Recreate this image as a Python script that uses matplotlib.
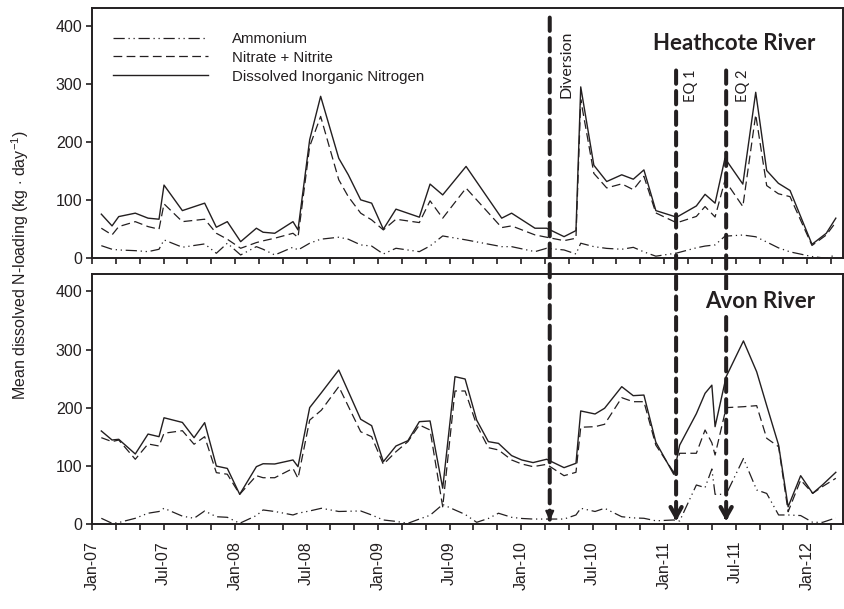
import matplotlib
matplotlib.use("Agg")
import matplotlib.pyplot as plt
from matplotlib.lines import Line2D
from matplotlib.patches import ConnectionPatch

plt.rcParams['font.family'] = ['Liberation Sans', 'DejaVu Sans']
plt.rcParams['mathtext.fontset'] = 'custom'
plt.rcParams['mathtext.rm'] = 'Liberation Sans'
plt.rcParams['mathtext.it'] = 'Liberation Sans'

# sampling dates, in months after 1 Jan 2007
months_heathcote = [0.78, 1.68, 2.24, 3.63, 4.70, 5.62, 6.04, 7.58, 9.45, 10.43, 11.35, 12.47,
                    13.79, 14.35, 15.33, 16.86, 17.28, 18.26, 19.18, 20.7, 21.5, 22.54, 23.46,
                    24.44, 25.5, 27.46, 28.36, 29.42, 31.38, 34.37, 35.2, 37.16, 38.14, 39.6,
                    40.6, 41.0, 42.1, 43.18, 44.44, 45.41, 46.3, 47.3, 49.05, 50.7, 51.43,
                    52.27, 53.1, 54.6, 55.68, 56.6, 57.58, 58.56, 60.4, 61.6, 62.4]
din_heathcote = [75.9, 55.7, 71.7, 77.6, 69, 67.2, 125.9, 82, 94.8, 53.4, 63, 28.6,
                 51.7, 44.8, 43, 63, 48.8, 204, 278.6, 172, 143.6, 100.5, 94.8,
                 50, 84.5, 70.7, 127.6, 109, 158, 69, 77.6, 51.7, 51.7, 37.2,
                 47.6, 294.8, 160, 132, 143.6, 136, 152, 82, 70.7, 90, 110,
                 94.8, 172, 127.6, 285.5, 151, 129, 116.6, 24, 43, 69]
nox_heathcote = [51.7, 40.2, 54.5, 63, 54.5, 50, 93.6, 63, 67.2, 43, 32.8, 17.2,
                 27, 30, 34.5, 43, 36, 192.4, 244, 135, 106, 77.6, 66,
                 48.8, 67.2, 61.4, 98.8, 69, 120.7, 52.8, 55.7, 40.2, 36.2, 30.3,
                 34.5, 273, 146, 121, 128, 118, 141, 78, 61, 72, 89,
                 71, 134, 89, 247, 125, 111, 106, 22, 40, 62]
nh4_heathcote = [21.7, 15.5, 14.3, 13.1, 11.4, 15.5, 31.6, 19, 24.7, 8.6, 25.9, 5.7,
                 20, 15.5, 5.7, 19, 14.3, 25.9, 32.8, 36.2, 32.8, 23, 21,
                 7.4, 17.2, 11.4, 21.2, 38.4, 31.6, 20, 20, 11.4, 17.2, 14.3,
                 7.4, 25.9, 20, 17, 15.5, 18.8, 11, 3.6, 9, 18, 21,
                 23, 38, 40, 37, 28, 18, 11, 3, 0, 6]

months_avon = [0.78, 1.68, 2.24, 3.63, 4.70, 5.62, 6.04, 7.58, 8.56, 9.45, 10.43, 11.35,
               12.39, 13.79, 14.35, 15.33, 16.86, 17.28, 18.26, 19.24, 20.7, 22.54, 23.46,
               24.44, 25.5, 26.5, 27.46, 28.36, 29.42, 30.45, 31.3, 32.27, 33.25, 34.1,
               35.2, 36.05, 37.0, 38.14, 39.6, 40.6, 41.0, 42.2, 43.0, 44.44, 45.4, 46.3,
               47.3, 48.8, 49.3, 50.7, 51.43, 52.0, 52.27, 53.2, 54.65, 55.76, 56.6, 57.6,
               58.4, 59.45, 60.46, 61.3, 62.4]
din_avon = [160.3, 144.8, 146, 120.8, 155, 150.5, 183, 175, 148.8, 174.6, 100, 96,
            51.5, 99, 104, 103.6, 110.5, 99, 200.4, 226, 265, 180.4, 169.4,
            107.6, 134.5, 143.6, 176.3, 177.5, 62, 253.6, 249.6, 179, 142, 139,
            118, 110.5, 106, 111.7, 97.3, 104.8, 194.7, 189.5, 199.3, 236.4, 221, 222,
            141, 86, 136, 190, 225, 239, 167.7, 253.6, 315, 262, 204, 136,
            30, 83.5, 53.2, 68, 89.3]
nox_avon = [148.8, 142, 144.8, 111.7, 138, 134.5, 156.4, 160.8, 137.5, 150.5, 88.7, 86,
            51.5, 83.5, 80, 80, 96, 79, 179, 196, 236.5, 159, 150.5,
            103, 124.7, 142, 170.6, 162, 30, 229, 229, 170.6, 131.6, 127.7,
            110.5, 103.6, 99, 103, 83.5, 89.3, 166.7, 167.7, 171.8, 217.5, 210.6, 210.6,
            136, 89.3, 122, 122, 162, 140, 119, 200.4, 202, 203.8, 147.8, 133.3,
            21.6, 76, 53.2, 65, 79]
nh4_avon = [10.3, 1.7, 3, 10.3, 19, 22, 27.5, 14, 10.3, 22.9, 13, 12,
            1.7, 15, 24.6, 22, 16, 19, 22.9, 27.5, 22, 22.9, 16,
            7.4, 5, 1.7, 9, 15.5, 34, 24.6, 17, 3.4, 10, 19,
            12, 10, 9, 9, 9, 16, 27.5, 22, 27.5, 13, 11, 10.3,
            6, 7.4, 5.7, 67.5, 63, 95, 51.5, 51.5, 113, 59, 53, 16,
            16, 15, 3.4, 3.4, 11]

# diversion and the two earthquakes
event_names = ['Diversion', 'EQ 1', 'EQ 2']
event_months = [38.4, 49.0, 53.2]

tick_labels = ['Jan-07', 'Jul-07', 'Jan-08', 'Jul-08', 'Jan-09', 'Jul-09',
               'Jan-10', 'Jul-10', 'Jan-11', 'Jul-11', 'Jan-12']

ink = '#231f20'
nh4_dash = (0, (9, 3, 1, 3, 1, 3))
nox_dash = (0, (7, 3.5))

fig = plt.figure(figsize=(8.45, 6.09), dpi=100)
ax1 = fig.add_axes([0.1089, 0.5759, 0.8887, 0.4105])
ax2 = fig.add_axes([0.1089, 0.1391, 0.8887, 0.411])

panels = [(ax1, months_heathcote, nh4_heathcote, nox_heathcote, din_heathcote),
          (ax2, months_avon, nh4_avon, nox_avon, din_avon)]
for ax, m, nh4, nox, din in panels:
    ax.plot(m, nh4, color=ink, lw=0.9, linestyle=nh4_dash)
    ax.plot(m, nox, color=ink, lw=0.9, linestyle=nox_dash)
    ax.plot(m, din, color=ink, lw=1.0)
    ax.set_xlim(0, 63)
    ax.set_ylim(0, 430)
    ax.set_yticks([0, 100, 200, 300, 400])
    ax.set_xticks(range(0, 63, 2))
    ax.set_xticklabels([])
    ax.tick_params(direction='out', length=4, width=1.2, colors=ink,
                   labelsize=11.5, pad=3)
    for s in ax.spines.values():
        s.set_linewidth(1.4)
        s.set_color(ink)

ax2.set_xticks(range(0, 63, 2))
ax2.set_xticklabels([tick_labels[i // 6] if i % 6 == 0 else '' for i in range(0, 63, 2)],
                    rotation=90)
ax2.tick_params(axis='x', pad=8)

fig.text(0.024, 0.565, r'Mean dissolved N-loading (kg $\cdot$ day$^{-1}$)',
         rotation=90, ha='center', va='center', fontsize=11.5, color=ink)

handles = [Line2D([], [], color=ink, lw=0.9, linestyle=nh4_dash),
           Line2D([], [], color=ink, lw=0.9, linestyle=nox_dash),
           Line2D([], [], color=ink, lw=1.0)]
ax1.legend(handles, ['Ammonium', 'Nitrate + Nitrite', 'Dissolved Inorganic Nitrogen'],
           loc='upper left', bbox_to_anchor=(0.01, 0.96), frameon=False,
           fontsize=10.8, handlelength=6.3, handletextpad=1.65, labelspacing=0.33,
           labelcolor=ink)

# event markers running through both panels
tops = [414, 323, 323]
label_offsets = [1.37, 1.25, 1.4]
for name, em, top, off in zip(event_names, event_months, tops, label_offsets):
    con = ConnectionPatch(xyA=(em, top), coordsA=ax1.transData,
                          xyB=(em, 8), coordsB=ax2.transData,
                          color=ink, lw=2.9, linestyle=(0, (3.3, 1.8)), zorder=2)
    fig.add_artist(con)
    if name == 'Diversion':
        ax2.annotate('', xy=(em, 1), xytext=(em, 22),
                     arrowprops=dict(arrowstyle='-|>,head_length=0.55,head_width=0.25',
                                     color=ink, lw=1.5))
    else:
        ax2.annotate('', xy=(em, 1), xytext=(em, 20),
                     arrowprops=dict(arrowstyle='->,head_length=0.7,head_width=0.4',
                                     color=ink, lw=3))
    ax1.text(em + off, top - 22 if name == 'Diversion' else top + 2, name,
             rotation=90, ha='center', va='top',
             fontsize=11.5 if name == 'Diversion' else 10.5, family='Lato',
             color=ink)

# river names sit above the event lines
fig.text(0.9645, 1 - 44 / 609, 'Heathcote River', ha='right', va='center',
         fontsize=16, fontweight='bold', family='Lato', color=ink, zorder=3,
         bbox=dict(facecolor='white', edgecolor='none', pad=1))
fig.text(0.9645, 1 - 301.5 / 609, 'Avon River', ha='right', va='center',
         fontsize=16, fontweight='bold', family='Lato', color=ink, zorder=3,
         bbox=dict(facecolor='white', edgecolor='none', pad=1))

fig.savefig('out.png', dpi=100)
